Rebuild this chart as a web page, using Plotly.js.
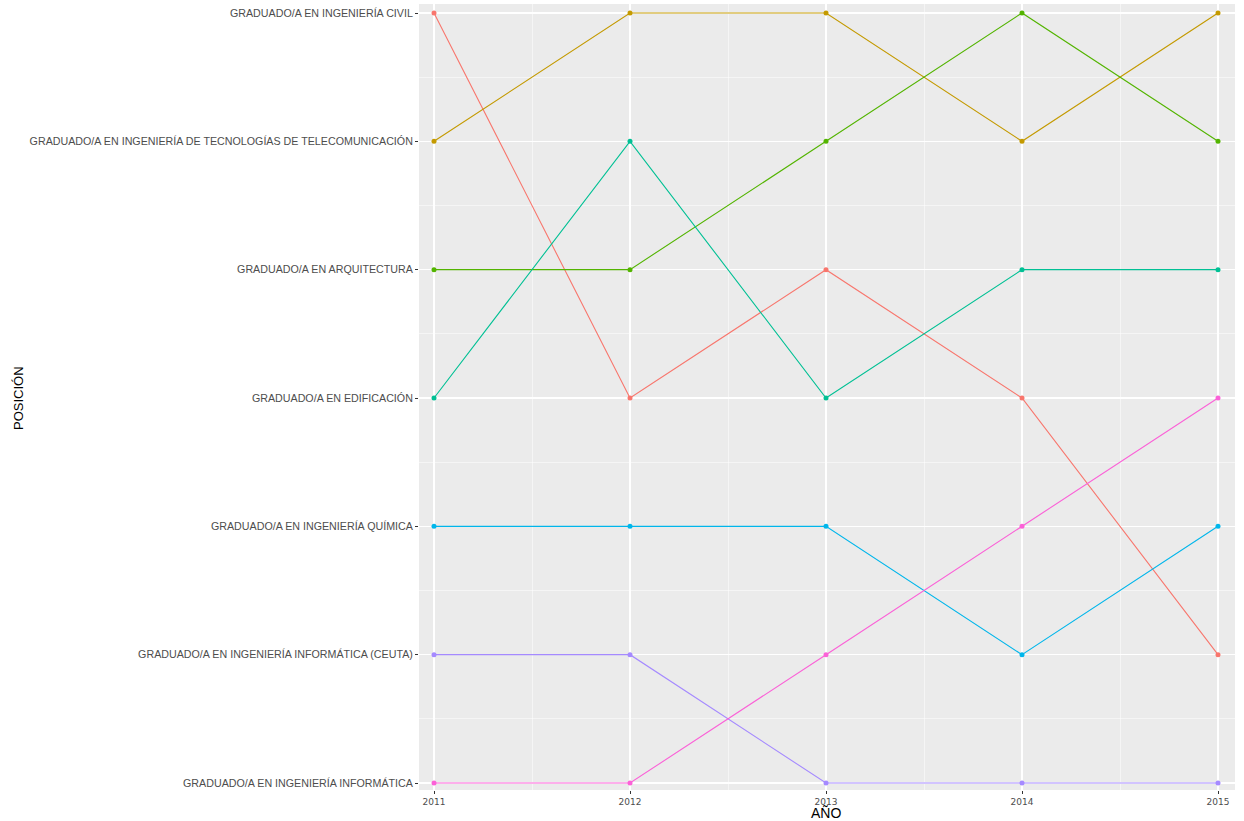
<!DOCTYPE html>
<html>
<head>
<meta charset="utf-8">
<script src="https://cdn.plot.ly/plotly-3.0.1.min.js"></script>
<style>html,body{margin:0;padding:0;background:#fff;}#chart{width:1244px;height:821px;}</style>
</head>
<body>
<div id="chart"></div>
<script>
const years = [2011, 2012, 2013, 2014, 2015];
const positionLabels = [
  "GRADUADO/A EN INGENIERÍA INFORMÁTICA",
  "GRADUADO/A EN INGENIERÍA INFORMÁTICA (CEUTA)",
  "GRADUADO/A EN INGENIERÍA QUÍMICA",
  "GRADUADO/A EN EDIFICACIÓN",
  "GRADUADO/A EN ARQUITECTURA",
  "GRADUADO/A EN INGENIERÍA DE TECNOLOGÍAS DE TELECOMUNICACIÓN",
  "GRADUADO/A EN INGENIERÍA CIVIL"
];
const positionValues = [1, 2, 3, 4, 5, 6, 7];
const seriesNames = [
  "GRADUADO/A EN INGENIERÍA CIVIL",
  "GRADUADO/A EN INGENIERÍA DE TECNOLOGÍAS DE TELECOMUNICACIÓN",
  "GRADUADO/A EN ARQUITECTURA",
  "GRADUADO/A EN EDIFICACIÓN",
  "GRADUADO/A EN INGENIERÍA QUÍMICA",
  "GRADUADO/A EN INGENIERÍA INFORMÁTICA (CEUTA)",
  "GRADUADO/A EN INGENIERÍA INFORMÁTICA"
];
const civil = [7, 4, 5, 4, 2];
const telecom = [6, 7, 7, 6, 7];
const arquitectura = [5, 5, 6, 7, 6];
const edificacion = [4, 6, 4, 5, 5];
const quimica = [3, 3, 3, 2, 3];
const informaticaCeuta = [2, 2, 1, 1, 1];
const informatica = [1, 1, 2, 3, 4];
const seriesValues = [civil, telecom, arquitectura, edificacion, quimica, informaticaCeuta, informatica];
const colors = ["#F8766D", "#C49A00", "#53B400", "#00C094", "#00B6EB", "#A58AFF", "#FB61D7"];
const xTitle = "AÑO";
const yTitle = "POSICIÓN";

const traces = seriesNames.map((n, i) => ({
  type: "scatter",
  mode: "lines+markers",
  x: years,
  y: seriesValues[i],
  name: n,
  line: {color: colors[i], width: 1.1},
  marker: {color: colors[i], size: 5},
  showlegend: false
}));

const minorY = positionValues.slice(0, -1).map(v => v + 0.5);
const minorX = years.slice(0, -1).map(v => v + 0.5);

const L = 419, R = 9, T = 4, B = 31, W = 1244, H = 821;
const pw = W - L - R, ph = H - T - B;

const layout = {
  width: W, height: H,
  margin: {l: L, r: R, t: T, b: B},
  paper_bgcolor: "#ffffff",
  plot_bgcolor: "#EBEBEB",
  showlegend: false,
  xaxis: {
    range: [2011 - 15/196, 2015 + 17/196],
    tickvals: years,
    ticktext: years.map(String),
    showgrid: true, gridcolor: "#ffffff", gridwidth: 1.1,
    minor: {tickvals: minorX, showgrid: true, gridcolor: "#ffffff", gridwidth: 0.5, ticks: ""},
    zeroline: false, showline: false,
    ticks: "outside", ticklen: 3, tickwidth: 1, tickcolor: "#333333",
    tickfont: {family: "DejaVu Sans", size: 9, color: "#4D4D4D"}
  },
  yaxis: {
    range: [1 - 7/128.33, 7 + 9/128.33],
    tickvals: positionValues,
    ticktext: positionLabels,
    showgrid: true, gridcolor: "#ffffff", gridwidth: 1.1,
    minor: {tickvals: minorY, showgrid: true, gridcolor: "#ffffff", gridwidth: 0.5, ticks: ""},
    zeroline: false, showline: false,
    ticks: "outside", ticklen: 3, tickwidth: 1, tickcolor: "#333333",
    tickfont: {family: "Liberation Sans", size: 10.7, color: "#4D4D4D"}
  },
  annotations: [
    {text: xTitle, xref: "paper", yref: "paper", x: (826 - L) / pw, y: -(822 - (H - B)) / ph,
     xanchor: "center", yanchor: "bottom", showarrow: false, borderpad: 0,
     font: {family: "Liberation Sans", size: 14, color: "#000000"}},
    {text: yTitle, xref: "paper", yref: "paper", x: (18 - L) / pw, y: 1 - (398 - T) / ph,
     xanchor: "center", yanchor: "middle", showarrow: false, textangle: -90,
     font: {family: "Liberation Sans", size: 13, color: "#000000"}}
  ]
};

Plotly.newPlot("chart", traces, layout, {displayModeBar: false, staticPlot: true});
</script>
</body>
</html>
